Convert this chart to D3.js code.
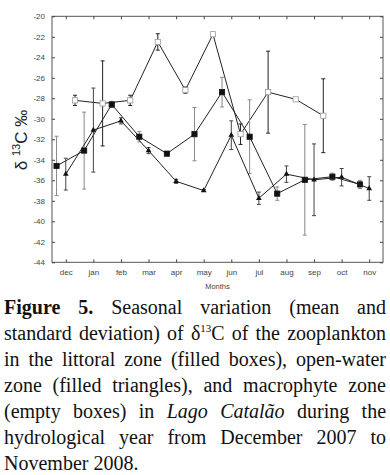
<!DOCTYPE html>
<html>
<head>
<meta charset="utf-8">
<script src="https://cdn.jsdelivr.net/npm/d3@7"></script>
<style>
  body { margin: 0; background: #fff; }
  #wrap { position: relative; width: 390px; height: 475px; overflow: hidden; }
  #caption { position: absolute; left: 4px; top: 294px; width: 382px;
             font-family: "Liberation Serif", "Times New Roman", serif; font-size: 20px;
             line-height: 26px; color: #111; }
  #caption div { white-space: nowrap; text-align: justify; text-align-last: justify; }
  #caption div.last { text-align-last: left; }
</style>
</head>
<body>
<div id="wrap">
  <svg id="drawing_region"></svg>
  <div id="caption"></div>
</div>
<script>
// months of the hydrological year
const months = ["dec","jan","feb","mar","apr","may","jun","jul","aug","sep","oct","nov"];
const yTicks = [-20,-22,-24,-26,-28,-30,-32,-34,-36,-38,-40,-42,-44];

// littoral zone (filled boxes)
const littoralMean = [-34.6,-33.1,-28.6,-31.75,-33.4,-31.5,-27.4,-31.75,-37.3,-35.95,-35.65,-36.4];
const littoralSd   = [2.9,3.75,0.3,0.5,0.2,2.6,1.45,3.6,0.65,5.4,0.35,0.4];
// open-water zone (filled triangles)
const openMean = [-35.4,-31.1,-30.2,-33.1,-36.1,-37.0,-31.6,-37.75,-35.4,-35.95,-35.7,-36.8];
const openSd   = [1.55,4.1,0.3,0.3,0.2,0.1,1.4,0.6,0.8,3.5,0.85,1.15];
// macrophyte zone (empty boxes)
const macroMean = [-28.2,-28.5,-28.2,-22.5,-27.2,-21.75,-31.5,-27.4,-28.1,-29.7,null,null];
const macroSd   = [0.5,4.15,0.5,0.8,0.3,0,1.0,4.0,0,3.6,null,null];

const captionLines = [
  '<b>Figure 5.</b> Seasonal variation (mean and',
  'standard deviation) of δ<sup style="font-size:11px;line-height:0">13</sup>C of the zooplankton',
  'in the littoral zone (filled boxes), open-water',
  'zone (filled triangles), and macrophyte zone',
  '(empty boxes) in <i>Lago Catalão</i> during the',
  'hydrological year from December 2007 to',
  'November 2008.'
];

const config = { width: 390, height: 290, left: 52, right: 383, top: 16.3, bottom: 262.3 };

const svg = d3.select('#drawing_region')
    .attr('width', config.width)
    .attr('height', config.height)
    .style('position', 'absolute').style('left', 0).style('top', 0);

const xscale = d3.scaleLinear().domain([-0.5, 11.5]).range([config.left, config.right]);
const yscale = d3.scaleLinear().domain([-44, -20]).range([config.bottom, config.top]);

// frame
svg.append('rect')
    .attr('x', config.left).attr('y', config.top)
    .attr('width', config.right - config.left).attr('height', config.bottom - config.top)
    .attr('fill', 'none').attr('stroke', '#555').attr('stroke-width', 1);

// axes with inner ticks
const monthIdx = d3.range(12);
svg.append('g').attr('transform', `translate(0,${config.bottom})`)
    .call(d3.axisBottom(xscale).tickValues(monthIdx).tickSizeInner(-3).tickSizeOuter(0)
        .tickPadding(7).tickFormat(i => months[i]))
    .call(g => g.select('.domain').remove());
svg.append('g').attr('transform', `translate(0,${config.top})`)
    .call(d3.axisTop(xscale).tickValues(monthIdx).tickSizeInner(-3).tickSizeOuter(0).tickFormat(''))
    .call(g => g.select('.domain').remove());
svg.append('g').attr('transform', `translate(${config.left},0)`)
    .call(d3.axisLeft(yscale).tickValues(yTicks).tickSizeInner(-3).tickSizeOuter(0)
        .tickPadding(7).tickFormat(d => d))
    .call(g => g.select('.domain').remove());
svg.append('g').attr('transform', `translate(${config.right},0)`)
    .call(d3.axisRight(yscale).tickValues(yTicks).tickSizeInner(-3).tickSizeOuter(0).tickFormat(''))
    .call(g => g.select('.domain').remove());

svg.selectAll('.tick line').attr('stroke', '#444');
svg.selectAll('.tick text')
    .attr('font-family', '"Liberation Sans", Arial, sans-serif')
    .attr('font-size', 8).attr('fill', '#444');

// axis titles
svg.append('text')
    .attr('x', (config.left + config.right) / 2).attr('y', 289)
    .attr('text-anchor', 'middle')
    .attr('font-family', '"Liberation Sans", Arial, sans-serif')
    .attr('font-size', 7.5).attr('fill', '#444')
    .text('Months');

const ytitle = svg.append('text')
    .attr('transform', 'translate(27,140) rotate(-90)')
    .attr('text-anchor', 'middle')
    .attr('font-family', '"Liberation Sans", Arial, sans-serif')
    .attr('font-size', 17).attr('fill', '#222');
ytitle.append('tspan').text('δ ');
ytitle.append('tspan').attr('font-size', 11).attr('dy', -7).text('13');
ytitle.append('tspan').attr('dy', 7).text('C ‰');

// series
const series = [
  { mean: macroMean, sd: macroSd, off: 0.335, shape: 'emptybox', errColor: '#222' },
  { mean: littoralMean, sd: littoralSd, off: -0.335, shape: 'box', errColor: '#888' },
  { mean: openMean, sd: openSd, off: 0, shape: 'tri', errColor: '#444' }
];

const line = d3.line()
    .defined(d => d.m !== null)
    .x(d => xscale(d.i + d.off))
    .y(d => yscale(d.m));

series.forEach(s => {
  const pts = s.mean.map((m, i) => ({ i: i, m: m, sd: s.sd[i], off: s.off }))
      .filter(d => d.m !== null);
  const g = svg.append('g');

  // error bars
  const eb = g.selectAll('.err').data(pts.filter(d => d.sd > 0)).enter().append('g')
      .attr('stroke', s.errColor).attr('stroke-width', 1);
  eb.append('line')
      .attr('x1', d => xscale(d.i + d.off)).attr('x2', d => xscale(d.i + d.off))
      .attr('y1', d => yscale(d.m + d.sd)).attr('y2', d => yscale(d.m - d.sd));
  [1, -1].forEach(sign => {
    eb.append('line')
        .attr('x1', d => xscale(d.i + d.off) - 2).attr('x2', d => xscale(d.i + d.off) + 2)
        .attr('y1', d => yscale(d.m + sign * d.sd)).attr('y2', d => yscale(d.m + sign * d.sd));
  });

  g.append('path').datum(pts)
      .attr('d', line).attr('fill', 'none')
      .attr('stroke', '#222').attr('stroke-width', 1);

  if (s.shape === 'tri') {
    g.selectAll('.mk').data(pts).enter().append('path')
        .attr('transform', d => `translate(${xscale(d.i + d.off)},${yscale(d.m)})`)
        .attr('d', d3.symbol().type(d3.symbolTriangle).size(14))
        .attr('fill', '#111');
  } else {
    g.selectAll('.mk').data(pts).enter().append('rect')
        .attr('x', d => xscale(d.i + d.off) - 2.6).attr('y', d => yscale(d.m) - 2.6)
        .attr('width', 5.2).attr('height', 5.2)
        .attr('fill', s.shape === 'box' ? '#111' : '#fff')
        .attr('stroke', s.shape === 'box' ? '#111' : '#999').attr('stroke-width', 0.8);
  }
});

// caption
const cap = d3.select('#caption');
cap.selectAll('div').data(captionLines).enter().append('div')
    .attr('class', (d, i) => i === captionLines.length - 1 ? 'last' : null)
    .html(d => d);

// shrink the caption font if the widest line does not fit
const probe = d3.select('body').append('span')
    .style('font-family', '"Liberation Serif", "Times New Roman", serif')
    .style('font-size', '20px').style('white-space', 'nowrap')
    .style('position', 'absolute').style('visibility', 'hidden');
let widest = 0;
captionLines.forEach(l => {
  probe.html(l);
  widest = Math.max(widest, probe.node().getBoundingClientRect().width);
});
probe.remove();
if (widest > 380) cap.style('font-size', (20 * 380 / widest) + 'px');
</script>
</body>
</html>
